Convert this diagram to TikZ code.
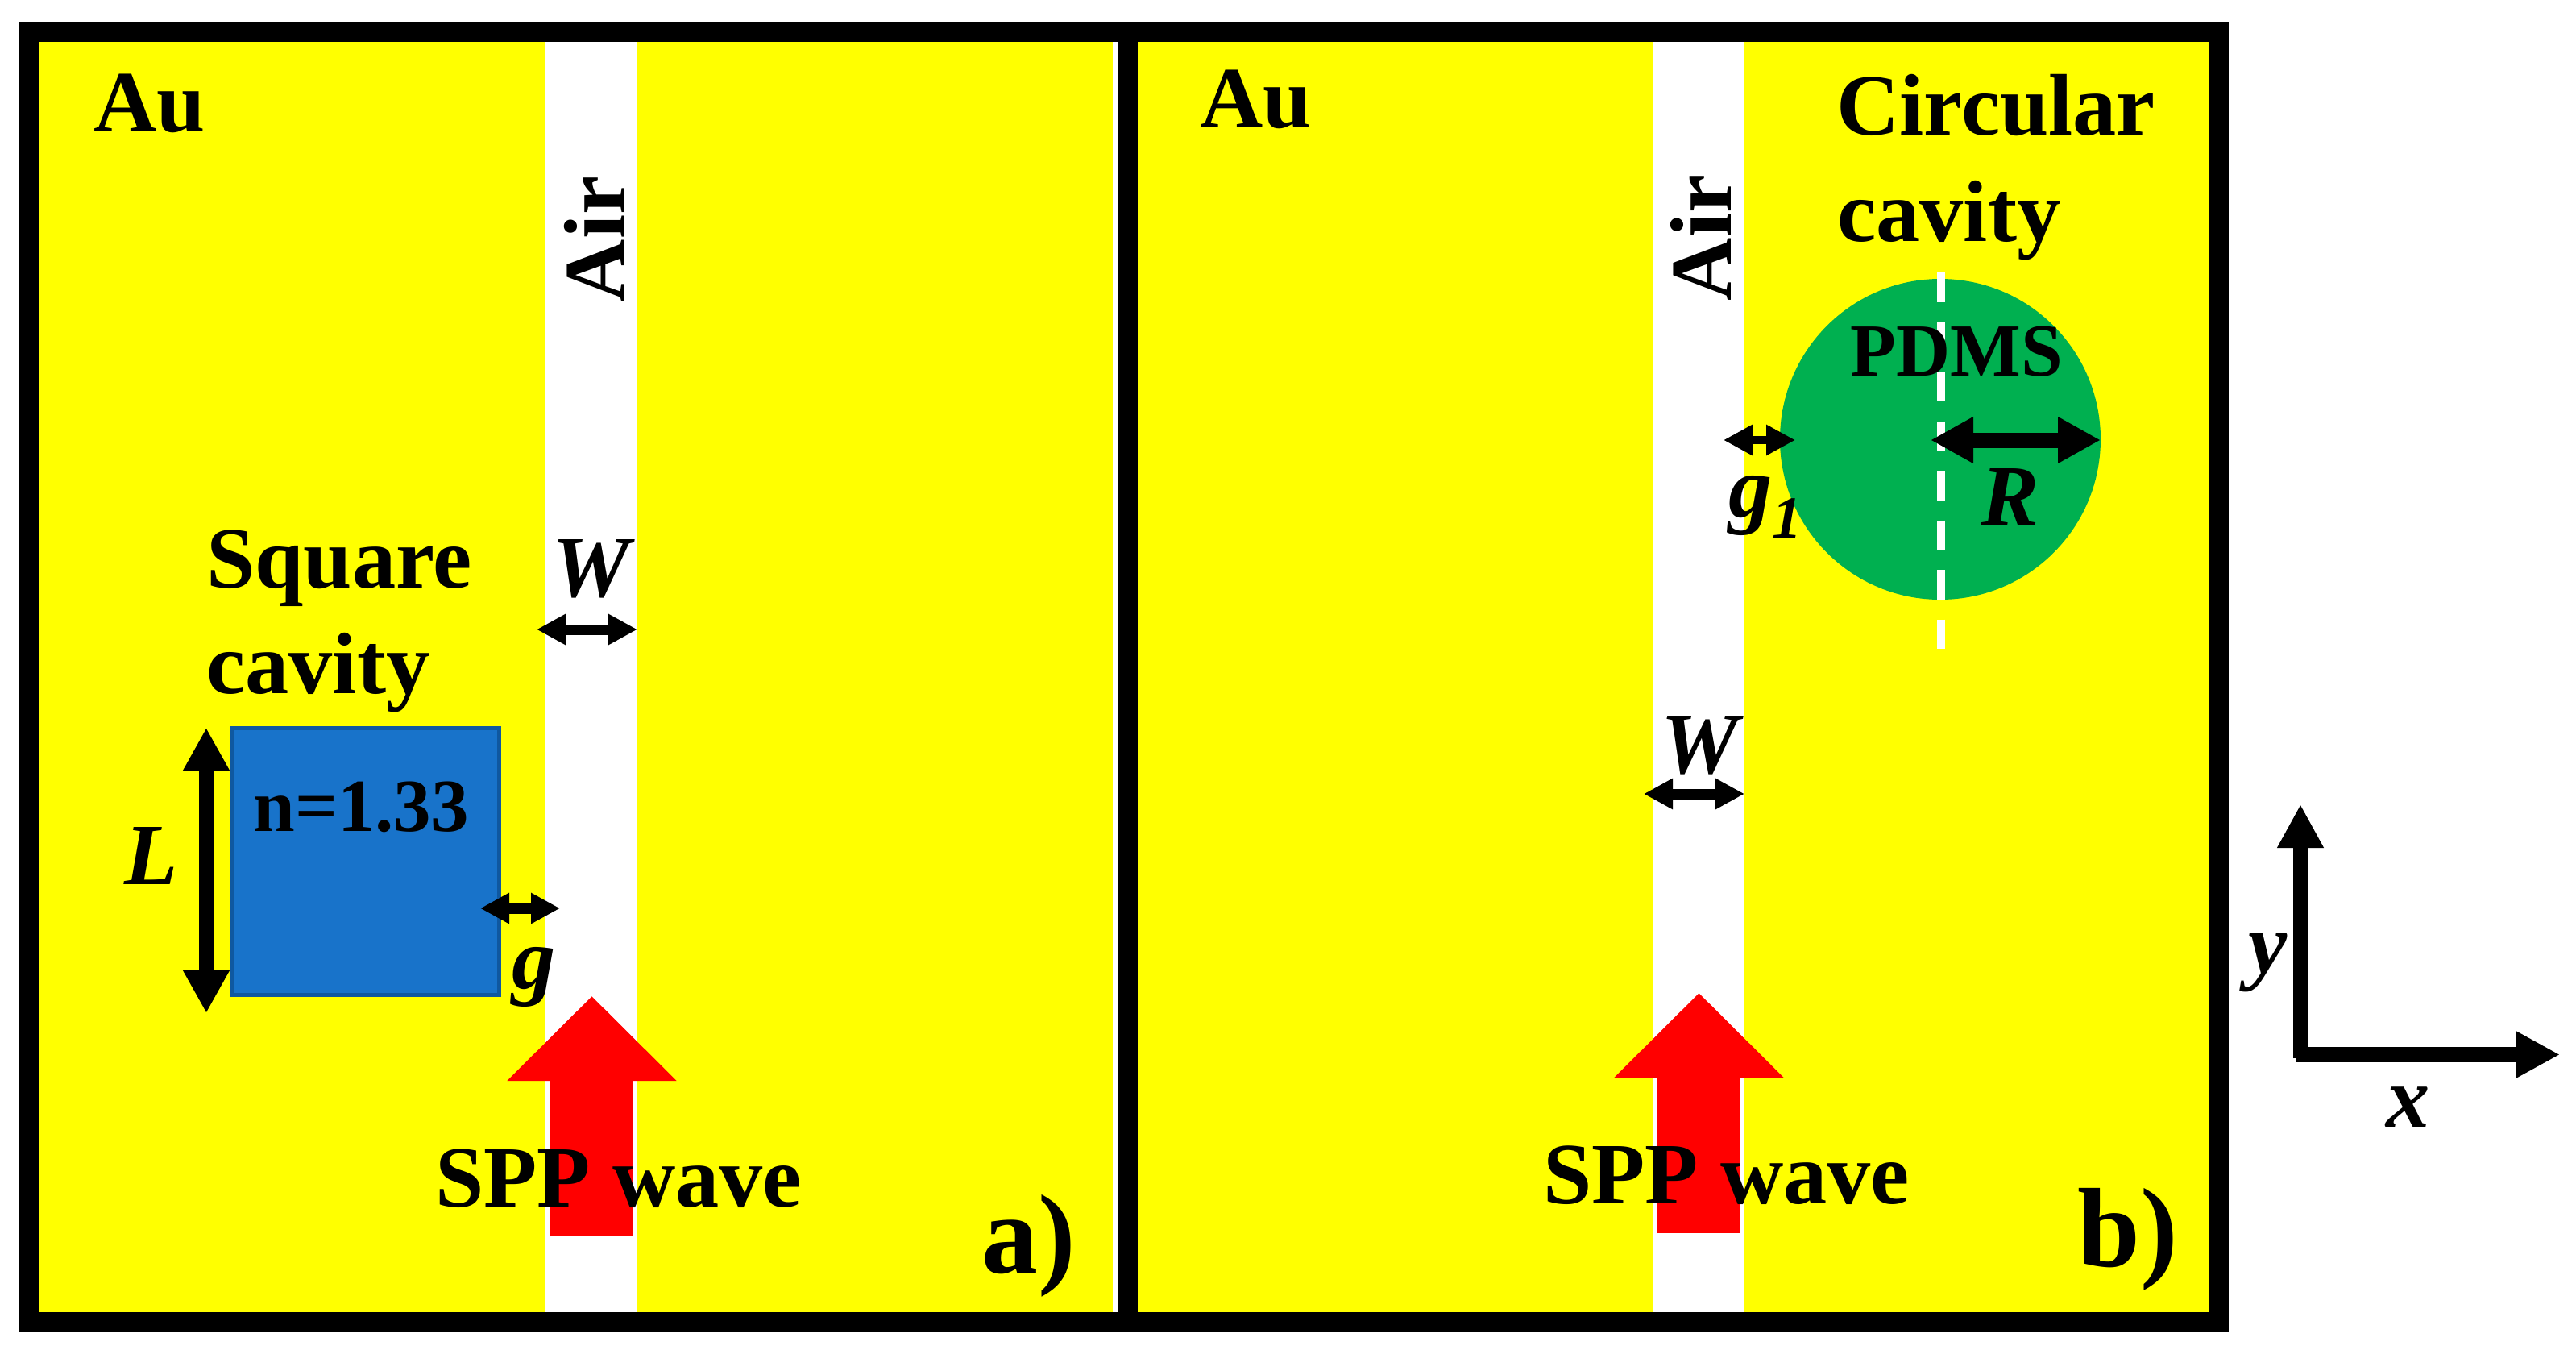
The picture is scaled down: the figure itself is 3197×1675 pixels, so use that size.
\documentclass[tikz,border=0pt]{standalone}
\usepackage{fontspec}
\setmainfont{Liberation Serif}
\usetikzlibrary{arrows.meta}
\definecolor{gold}{HTML}{FFFF00}
\definecolor{sqblue}{HTML}{1873CA}
\definecolor{sqedge}{HTML}{0F58A0}
\definecolor{pdms}{HTML}{00B050}
\newcommand{\fz}[1]{\fontsize{#1}{#1}\selectfont}
\tikzset{
  lbl/.style={anchor=base west,inner sep=0pt,font=\fz{54.2}\bfseries},
  lblc/.style={anchor=base,inner sep=0pt,font=\fz{54.2}\bfseries},
  ilbl/.style={anchor=base west,inner sep=0pt,font=\fz{54.2}\bfseries\itshape},
  inner/.style={anchor=base west,inner sep=0pt,font=\fz{46.5}\bfseries},
  tag/.style={anchor=base west,inner sep=0pt,font=\fz{70}\bfseries},
  dimthin/.style={line width=6.5pt,{Triangle[length=18pt,width=18pt]}-{Triangle[length=18pt,width=18pt]}},
  dimfine/.style={line width=4.6pt,{Triangle[length=18pt,width=18pt]}-{Triangle[length=18pt,width=18pt]}},
  dimthick/.style={line width=9.5pt,{Triangle[length=26.5pt,width=27pt]}-{Triangle[length=26.5pt,width=27pt]}},
  axisline/.style={line width=9.5pt,-{Triangle[length=27pt,width=27pt]}},
  spp/.style={red,line width=51.5pt,-{Triangle[length=52.5pt,width=102pt]}},
}
\begin{document}
\begin{tikzpicture}[x=0.5pt,y=-0.5pt]
\useasboundingbox (0,0) rectangle (3197,1675);
% frame and panels
\fill[black] (23,27) rectangle (2766,1653);
\fill[white] (48,52) rectangle (1387,1628);
\fill[gold] (48,52) rectangle (1381,1628);
\fill[gold] (1412,52) rectangle (2742,1628);
\fill[white] (677,52) rectangle (791,1628);
\fill[white] (2051,52) rectangle (2165,1628);
% cavities
\node (sq) [draw=sqedge,fill=sqblue,line width=2.5pt,minimum width=165.5pt,minimum height=165.5pt,inner sep=0pt] at (454,1068.5) {};
\node (ci) [circle,fill=pdms,minimum size=199pt,inner sep=0pt] at (2408,545) {};
% dashed axis
\coordinate (dT) at (2409,338);
\coordinate (dB) at (2409,805);
\draw[white,line width=5pt,dash pattern=on 18.5pt off 12.25pt] (dT) -- (dB);
% red arrows
\coordinate (ra0) at (734.5,1534); \coordinate (ra1) at (734.5,1236);
\coordinate (rb0) at (2108.5,1530); \coordinate (rb1) at (2108.5,1232);
\draw[spp] (ra0) -- (ra1);
\draw[spp] (rb0) -- (rb1);
% dimension arrows, panel a
\coordinate (La) at (256,903); \coordinate (Lb) at (256,1257);
\draw[dimthick] (La) -- (Lb);
\coordinate (Wa) at (666,781); \coordinate (Wb) at (791,781);
\draw[dimthin] (Wa) -- (Wb);
\coordinate (ga) at (596,1127); \coordinate (gb) at (695,1127);
\draw[dimthin] (ga) -- (gb);
% dimension arrows, panel b
\coordinate (Wc) at (2040,985); \coordinate (Wd) at (2165,985);
\draw[dimthin] (Wc) -- (Wd);
\coordinate (g1a) at (2139,546); \coordinate (g1b) at (2228,546);
\draw[dimfine] (g1a) -- (g1b);
\coordinate (Ra) at (2396,546); \coordinate (Rb) at (2607,546);
\draw[dimthick] (Ra) -- (Rb);
% axes
\coordinate (o1) at (2855,1313); \coordinate (yt) at (2855,998);
\coordinate (o2) at (2850,1308.5); \coordinate (xt) at (3177,1308.5);
\draw[axisline] (o1) -- (yt);
\draw[axisline] (o2) -- (xt);
% labels panel a
\node (aAu) [lbl] at (116,163) {Au};
\node (aAir) [lblc,rotate=90] at (775,297) {Air};
\node (aSq) [lbl] at (256,729) {Square};
\node (aCav) [lbl] at (256,860) {cavity};
\node (aN) [inner] at (314,1031) {n=1.33};
\node (aW) [ilbl] at (685,740) {W};
\node (aL) [ilbl] at (154,1097) {L};
\node (ag) [ilbl] at (635,1226) {g};
\node (aS) [lbl] at (540,1497) {SPP wave};
\node (aT) [tag] at (1218,1579) {a)};
% labels panel b
\node (bAu) [lbl] at (1489,158) {Au};
\node (bAir) [lblc,rotate=90] at (2148,295) {Air};
\node (bCi) [lbl] at (2279,168) {Circular};
\node (bCav) [lbl] at (2280,299) {cavity};
\node (bP) [inner] at (2296,466) {PDMS};
\node (bW) [ilbl] at (2061,959) {W};
\node (bg) [ilbl] at (2145,641) {g\raisebox{-13pt}{\fz{37}1}};
\node (bR) [ilbl] at (2458,652) {R};
\node (bS) [lbl] at (1915,1493) {SPP wave};
\node (bT) [tag] at (2578,1571) {b)};
% axis labels
\node (ly) [ilbl] at (2790,1207) {y};
\node (lx) [ilbl] at (2961,1398) {x};
\end{tikzpicture}
\end{document}
